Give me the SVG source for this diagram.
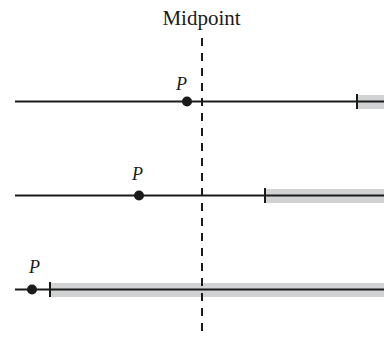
<svg xmlns="http://www.w3.org/2000/svg" width="384" height="339" viewBox="0 0 384 339">
<style>
.axis{stroke:#1a1a1a;stroke-width:2;fill:none}
.band{fill:#d1d2d3}
.tick{stroke:#1a1a1a;stroke-width:2}
.dot{fill:#1a1a1a}
.lbl{font-family:"Liberation Serif","Times New Roman",serif;font-style:italic;font-size:18px;fill:#1a1a1a}
.mid{font-family:"Liberation Serif","Times New Roman",serif;font-size:21px;fill:#1a1a1a}
.dash{stroke:#1a1a1a;stroke-width:2;stroke-dasharray:8 7;fill:none}
</style>
<rect width="384" height="339" fill="#ffffff"/>
<g id="row1">
<rect class="band" x="357" y="95" width="27" height="14"/>
<line class="axis" x1="15" y1="101.5" x2="384" y2="101.5"/>
<line class="tick" x1="357" y1="94" x2="357" y2="109"/>
<circle class="dot" cx="187" cy="101.5" r="5"/>
<text class="lbl" x="176" y="90">P</text>
</g>
<g id="row2">
<rect class="band" x="265" y="189" width="119" height="14"/>
<line class="axis" x1="15" y1="195.5" x2="384" y2="195.5"/>
<line class="tick" x1="265" y1="188" x2="265" y2="203"/>
<circle class="dot" cx="139" cy="195.5" r="5"/>
<text class="lbl" x="132" y="180">P</text>
</g>
<g id="row3">
<rect class="band" x="50" y="283" width="334" height="14"/>
<line class="axis" x1="15" y1="289.5" x2="384" y2="289.5"/>
<line class="tick" x1="50" y1="282" x2="50" y2="297"/>
<circle class="dot" cx="32" cy="289.5" r="5"/>
<text class="lbl" x="29" y="273">P</text>
</g>
<g id="midpoint">
<text class="mid" x="201.5" y="25" text-anchor="middle">Midpoint</text>
</g>
<g id="connectors">
<line class="dash" x1="202" y1="38" x2="202" y2="332"/>
</g>
</svg>
